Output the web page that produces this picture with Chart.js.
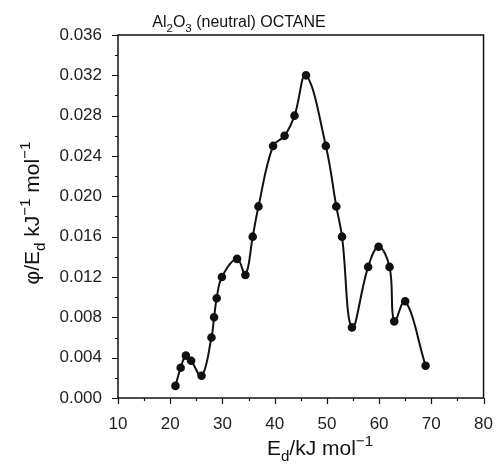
<!DOCTYPE html>
<html>
<head>
<meta charset="utf-8">
<script src="https://cdn.jsdelivr.net/npm/chart.js@4.4.1/dist/chart.umd.min.js"></script>
<style>
  html, body { margin: 0; padding: 0; background: #fff; }
</style>
</head>
<body>
<canvas id="chart" width="501" height="466"></canvas>
<script>
// values
const energy = [21, 22, 23, 24, 26, 27.9, 28.4, 28.9, 29.9, 32.8, 34.4, 35.8, 36.9,
                39.7, 41.9, 43.8, 46, 49.8, 51.8, 52.9, 54.8, 57.9, 59.9, 62, 62.9, 65, 68.9];
const phi = [0.0012, 0.0030, 0.0042, 0.0037, 0.0022, 0.0060, 0.0080, 0.0099, 0.0120, 0.0138, 0.0122, 0.0160, 0.0190,
             0.0250, 0.0260, 0.0280, 0.0320, 0.0250, 0.0190, 0.0160, 0.0070, 0.0130, 0.0150, 0.0130, 0.0076, 0.0096, 0.0032];
const xTicks = [10, 20, 30, 40, 50, 60, 70, 80];
const yTicks = [0, 0.004, 0.008, 0.012, 0.016, 0.020, 0.024, 0.028, 0.032, 0.036];

const FONT = '"Liberation Sans", Arial, sans-serif';

function drawRich(ctx, parts, x, y, size, align) {
    // parts: [text, mode] with mode '', 'sub' or 'sup'
    const sz = p => p[1] ? size * 0.72 : size;
    const measure = p => {
        ctx.font = sz(p) + 'px ' + FONT;
        return ctx.measureText(p[0]).width;
    };
    const total = parts.reduce((a, p) => a + measure(p), 0);
    let cx = align === 'center' ? x - total / 2 : x;
    ctx.textAlign = 'left';
    ctx.textBaseline = 'alphabetic';
    for (const p of parts) {
        const dy = p[1] === 'sub' ? size * 0.3 : p[1] === 'sup' ? -size * 0.42 : 0;
        ctx.font = sz(p) + 'px ' + FONT;
        ctx.fillText(p[0], cx, y + dy);
        cx += ctx.measureText(p[0]).width;
    }
}

const decor = {
    id: 'decor',
    afterDraw(chart) {
        const {ctx, chartArea: a, scales: {x, y}} = chart;
        ctx.save();
        ctx.strokeStyle = '#111';
        ctx.lineWidth = 1.5;
        ctx.strokeRect(a.left, a.top, a.right - a.left, a.bottom - a.top);

        ctx.lineWidth = 1.2;
        ctx.beginPath();
        for (let v = 10; v <= 80; v += 5) {
            const px = Math.round(x.getPixelForValue(v)) + 0.5;
            const len = v % 10 === 0 ? 6 : 3;
            ctx.moveTo(px, a.bottom);
            ctx.lineTo(px, a.bottom + len);
        }
        for (let i = 0; i <= 18; i++) {
            const py = Math.round(y.getPixelForValue(i * 0.002)) + 0.5;
            const len = i % 2 === 0 ? 6 : 3;
            ctx.moveTo(a.left, py);
            ctx.lineTo(a.left - len, py);
        }
        ctx.stroke();

        ctx.fillStyle = '#111';
        drawRich(ctx, [['Al', ''], ['2', 'sub'], ['O', ''], ['3', 'sub'], [' (neutral) OCTANE', '']],
            239, 27, 16, 'center');
        drawRich(ctx, [['E', ''], ['d', 'sub'], ['/kJ mol', ''], ['\u22121', 'sup']],
            320, 455, 21, 'center');

        ctx.translate(39, 213);
        ctx.rotate(-Math.PI / 2);
        drawRich(ctx, [['\u03C6/E', ''], ['d', 'sub'], [' kJ', ''], ['\u22121', 'sup'], [' mol', ''], ['\u22121', 'sup']],
            0, 0, 21, 'center');
        ctx.restore();
    }
};

new Chart(document.getElementById('chart'), {
    type: 'line',
    data: {
        datasets: [{
            data: energy.map((e, i) => ({x: e, y: phi[i]})),
            borderColor: '#111',
            backgroundColor: '#111',
            borderWidth: 2,
            pointRadius: 3.3,
            pointHoverRadius: 3.3,
            tension: 0.4,
            fill: false
        }]
    },
    options: {
        responsive: false,
        animation: false,
        events: [],
        layout: { padding: { left: 0, top: 35, right: 12, bottom: 0 } },
        plugins: { legend: { display: false }, tooltip: { enabled: false } },
        scales: {
            x: {
                type: 'linear',
                min: 10,
                max: 80,
                afterBuildTicks: s => { s.ticks = xTicks.map(v => ({value: v})); },
                afterFit: s => { s.height = 68; },
                grid: { display: false },
                border: { display: false },
                ticks: { color: '#222', font: { family: FONT, size: 17 }, padding: 8, maxRotation: 0 }
            },
            y: {
                min: 0,
                max: 0.036,
                afterBuildTicks: s => { s.ticks = yTicks.map(v => ({value: v})); },
                afterFit: s => { s.width = 118; },
                grid: { display: false },
                border: { display: false },
                ticks: {
                    color: '#222',
                    font: { family: FONT, size: 17 },
                    padding: 8,
                    callback: v => v.toFixed(3)
                }
            }
        }
    },
    plugins: [decor]
});
</script>
</body>
</html>
